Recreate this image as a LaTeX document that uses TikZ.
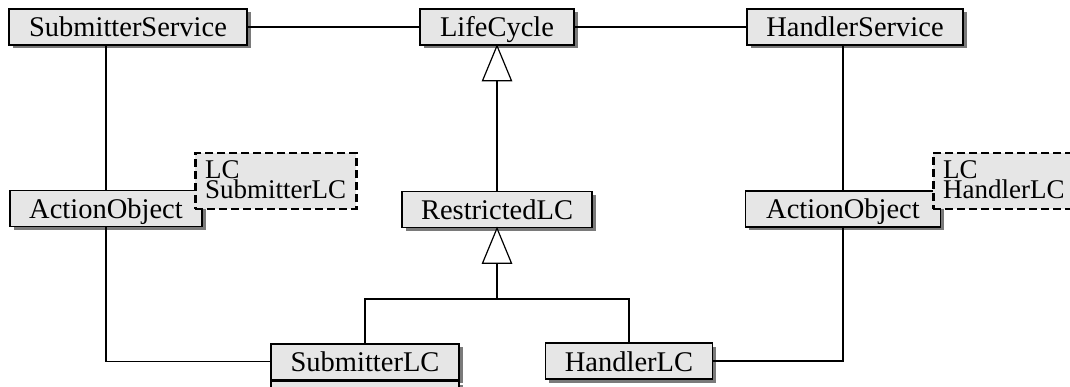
\documentclass[tikz,border=0pt]{standalone}
\usepackage{fontspec}
\setmainfont{Liberation Serif}
\usetikzlibrary{shadows}
\definecolor{boxfill}{HTML}{E6E6E6}
\definecolor{shadowgray}{HTML}{7A7A7A}
\newcommand{\tpfont}{\fontsize{27}{20}\selectfont}
\begin{document}
\begin{tikzpicture}[x=1pt,y=-1pt,
  cls/.style={draw=black, line width=1.5pt, fill=boxfill, inner sep=0pt,
    minimum height=36pt, text height=28pt, text depth=8pt,
    font=\fontsize{28.5}{30}\selectfont,
    drop shadow={shadow xshift=3.5pt, shadow yshift=-3.5pt, opacity=1, fill=shadowgray}},
  tparam/.style={draw=black, line width=2.5pt, dash pattern=on 8pt off 4pt,
    fill=boxfill, anchor=north west, inner sep=0pt, minimum height=56pt},
  tptext/.style={anchor=base west, inner sep=0pt, align=left, font=\tpfont},
  link/.style={draw=black, line width=1.2pt},
  gen/.style={draw=black, line width=1.2pt, fill=white, line join=miter}
]
\useasboundingbox (0,0) rectangle (1070,387);

% classes, first row
\node[cls, minimum width=238pt] (ss) at (128,27) {SubmitterService};
\node[cls, minimum width=154pt] (lc) at (497,27) {LifeCycle};
\node[cls, minimum width=216pt] (hs) at (855,27) {HandlerService};

% second row
\node[cls, minimum width=192pt] (aoL) at (106,208.5) {ActionObject};
\node[cls, minimum width=190pt] (rlc) at (497,209.5) {RestrictedLC};
\node[cls, minimum width=195pt] (aoR) at (843,209) {ActionObject};

% template parameter boxes (text anchored on the baseline of its last line)
\node[tparam, minimum width=161pt] (tpL) at (194,152) {};
\node[tptext] (tpLtxt) at ([xshift=11pt,yshift=-46.5pt]tpL.north west) {LC\\SubmitterLC};
\node[tparam, minimum width=150pt] (tpR) at (932,152) {};
\node[tptext] (tpRtxt) at ([xshift=11pt,yshift=-46.5pt]tpR.north west) {LC\\HandlerLC};

% third row
\node[cls, minimum width=188pt] (slc) at (365,361.75) {SubmitterLC};
\node[cls, minimum width=188pt, minimum height=6pt, text height=0pt, text depth=0pt,
  anchor=north] (slcb) at (slc.south) {};
\node[cls, minimum width=167pt] (hlc) at (629,361) {HandlerLC};

% associations
\draw[link] (ss.east) -- (lc.west);
\draw[link] (lc.east) -- (hs.west);
\draw[link] (aoL.north) -- (aoL.north |- ss.south);
\draw[link] (aoR.north) -- (aoR.north |- hs.south);
\draw[link] (aoL.south) |- (slc.west);
\draw[link] (hlc.east) -| (aoR.south);

% generalisation: RestrictedLC -> LifeCycle
\coordinate (t1) at ([yshift=-35pt]lc.south);
\draw[link] (rlc.north) -- (t1);
\draw[gen] (lc.south) -- ([xshift=-14.5pt]t1) -- ([xshift=14.5pt]t1) -- cycle;

% generalisation: SubmitterLC, HandlerLC -> RestrictedLC
\coordinate (t2) at ([yshift=-35pt]rlc.south);
\coordinate (j) at (497,299);
\draw[link] (t2) -- (j);
\draw[link] (slc.north) |- (j) -| (hlc.north);
\draw[gen] (rlc.south) -- ([xshift=-14.5pt]t2) -- ([xshift=14.5pt]t2) -- cycle;
\end{tikzpicture}
\end{document}
